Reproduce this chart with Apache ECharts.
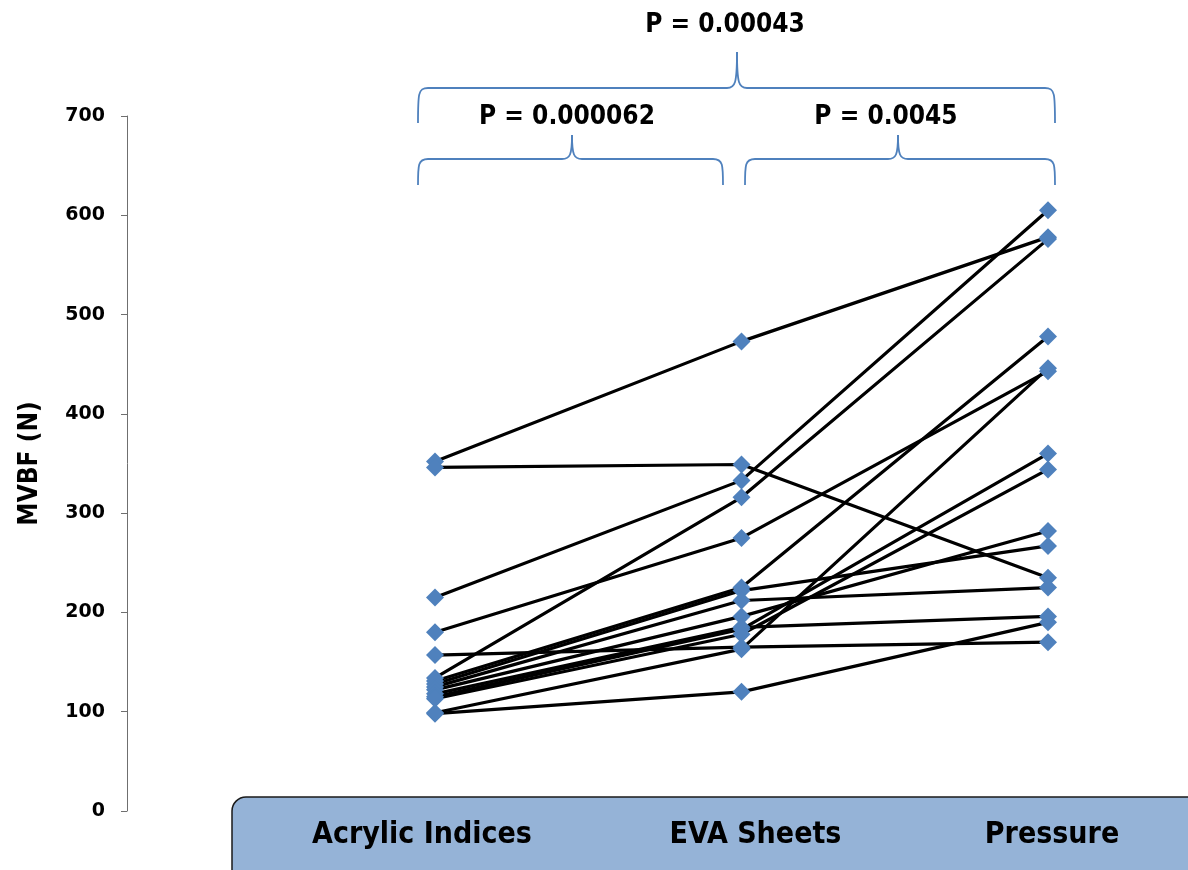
<!DOCTYPE html>
<html><head><meta charset="utf-8">
<script src="https://cdn.jsdelivr.net/npm/echarts@6/dist/echarts.min.js"></script>
<style>html,body{margin:0;padding:0;background:#fff}#c{width:1188px;height:870px}</style>
</head><body><div id="c"></div>
<script>
const categories = ['Acrylic Indices', 'EVA Sheets', 'Pressure'];
const acrylic  = [352, 346, 215, 180, 134, 157,  98,  99, 131, 128, 125, 122, 118, 115, 113];
const eva      = [473, 349, 333, 275, 316, 165, 120, 163, 225, 222, 212, 196, 185, 183, 178];
const pressure = [578, 235, 605, 443, 576, 170, 190, 446, 478, 267, 225, 282, 196, 360, 344];
const yTicks = [0, 100, 200, 300, 400, 500, 600, 700];
const pLabels = ['P = 0.00043', 'P = 0.000062', 'P = 0.0045'];

const narrow = "'Liberation Sans Narrow', 'DejaVu Sans Condensed', sans-serif";
const braceColor = '#4F81BD';

function brace(x1, x2, xm, yb, yh, yp) {
  const r = 10;
  const st = { stroke: braceColor, lineWidth: 1.8, fill: null };
  const bz = (a, b, c, d) => ({ type: 'bezierCurve', shape: { x1: a[0], y1: a[1], cpx1: b[0], cpy1: b[1], cpx2: c[0], cpy2: c[1], x2: d[0], y2: d[1] }, style: st });
  const ln = (a, b) => ({ type: 'line', shape: { x1: a[0], y1: a[1], x2: b[0], y2: b[1] }, style: st });
  return [
    bz([x1, yb], [x1, yh + 6], [x1, yh], [x1 + r, yh]),
    ln([x1 + r, yh], [xm - r, yh]),
    bz([xm - r, yh], [xm - 2, yh], [xm, yh - 4], [xm, yp]),
    bz([xm, yp], [xm, yh - 4], [xm + 2, yh], [xm + r, yh]),
    ln([xm + r, yh], [x2 - r, yh]),
    bz([x2 - r, yh], [x2, yh], [x2, yh + 6], [x2, yb])
  ];
}

const series = acrylic.map((a, i) => ({
  type: 'line',
  data: [a, eva[i], pressure[i]],
  symbol: 'diamond',
  symbolSize: 18,
  lineStyle: { color: '#000', width: 3.2 },
  itemStyle: { color: '#4F81BD' },
  emphasis: { disabled: true },
  animation: false
}));

const labStyle = { fontSize: 30, fontWeight: 'bold', fontFamily: narrow, color: '#000' };

const chart = echarts.init(document.getElementById('c'));
chart.setOption({
  animation: false,
  grid: { left: 435, right: 140, top: 116, bottom: 59 },
  xAxis: {
    type: 'category', data: categories, boundaryGap: false,
    axisLine: { show: false }, axisTick: { show: false },
    axisLabel: Object.assign({}, labStyle, {
      margin: 9, interval: 0, hideOverlap: false,
      formatter: (v, i) => `{c${i}|${v}}`,
      rich: {
        c0: Object.assign({ padding: [0, 26, 0, 0] }, labStyle),
        c1: Object.assign({ padding: [0, 0, 0, 28] }, labStyle),
        c2: Object.assign({ padding: [0, 0, 0, 8] }, labStyle)
      }
    })
  },
  yAxis: {
    type: 'value', min: 0, max: 700, interval: 100, offset: 308,
    name: 'MVBF (N)', nameLocation: 'middle', nameGap: 84,
    nameTextStyle: { fontSize: 26, fontWeight: 'bold', fontFamily: narrow, color: '#000' },
    axisLine: { show: true, lineStyle: { color: '#6f6f6f', width: 1 } },
    axisTick: { show: true, length: 6, lineStyle: { color: '#6f6f6f' } },
    splitLine: { show: false },
    axisLabel: { fontSize: 19, fontWeight: 'bold', fontFamily: "'DejaVu Sans', sans-serif", color: '#000', margin: 22,
      formatter: v => yTicks.includes(v) ? String(v) : '' }
  },
  graphic: [
    { type: 'rect', z: -1, shape: { x: 232, y: 797, width: 1000, height: 110, r: 14 },
      style: { fill: '#95B3D7', stroke: '#1a1a1a', lineWidth: 1.5 } },
    ...brace(418, 1055, 737, 123, 88, 52),
    ...brace(418, 723, 572, 185, 159, 135),
    ...brace(745, 1055, 898, 185, 159, 135),
    { type: 'text', x: 725, y: 25, style: { text: pLabels[0], font: `bold 26px ${narrow}`, fill: '#000', textAlign: 'center', textVerticalAlign: 'middle' } },
    { type: 'text', x: 567, y: 117, style: { text: pLabels[1], font: `bold 26px ${narrow}`, fill: '#000', textAlign: 'center', textVerticalAlign: 'middle' } },
    { type: 'text', x: 886, y: 117, style: { text: pLabels[2], font: `bold 26px ${narrow}`, fill: '#000', textAlign: 'center', textVerticalAlign: 'middle' } }
  ],
  series: series
});
</script></body></html>
